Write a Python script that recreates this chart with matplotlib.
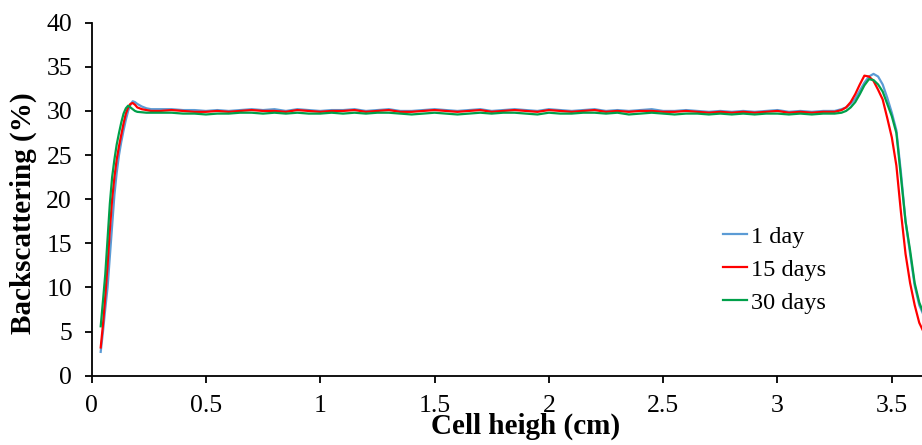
import numpy as np
import matplotlib
matplotlib.use("Agg")
import matplotlib.pyplot as plt
from matplotlib.ticker import FuncFormatter, MultipleLocator

plt.rcParams['font.family'] = ['Liberation Serif', 'DejaVu Serif']

# sample positions (cm): dense on the rising edge, coarse on the plateau, medium on the far edge
x_rise = [0.04, 0.05, 0.06, 0.07, 0.08, 0.09, 0.10, 0.11, 0.12, 0.13,
          0.14, 0.15, 0.16, 0.17, 0.18, 0.19, 0.20, 0.22, 0.24, 0.26]
x_flat = np.round(np.arange(0.30, 3.2501, 0.05), 2)
x_end = np.round(np.arange(3.28, 3.6401, 0.02), 2)
x = np.concatenate([x_rise, x_flat, x_end])

# 1 day
day1 = [2.7, 5.0, 7.6, 10.0, 13.5, 17.0, 20.5, 23.0, 25.0, 26.5,
        27.8, 29.0, 30.0, 30.7, 31.1, 31.0, 30.8, 30.5, 30.3, 30.2,
        30.2, 30.2, 30.1, 30.1, 30.0, 30.1, 30.0, 30.1, 30.2, 30.1,
        30.2, 30.0, 30.2, 30.1, 30.0, 30.1, 30.1, 30.2, 30.0, 30.1,
        30.2, 30.0, 30.0, 30.1, 30.2, 30.1, 30.0, 30.1, 30.2, 30.0,
        30.1, 30.2, 30.1, 30.0, 30.2, 30.1, 30.0, 30.1, 30.2, 30.0,
        30.1, 30.0, 30.1, 30.2, 30.0, 30.0, 30.1, 30.0, 29.9, 30.0,
        29.9, 30.0, 29.9, 30.0, 30.1, 29.9, 30.0, 29.9, 30.0, 30.0,
        30.2, 30.4, 30.8, 31.4, 32.3, 33.2, 33.9, 34.2, 33.9, 33.0,
        31.5, 29.8, 27.8, 23.0, 17.5, 13.8, 10.2, 8.0, 6.8]

# 15 days
day15 = [3.2, 5.8, 9.0, 12.5, 16.5, 20.0, 22.5, 24.5, 26.0, 27.3,
         28.6, 29.7, 30.4, 30.8, 30.9, 30.7, 30.4, 30.2, 30.1, 30.0,
         30.0, 30.1, 30.0, 29.9, 29.9, 30.0, 29.9, 30.0, 30.1, 30.0,
         30.0, 29.9, 30.1, 30.0, 29.9, 30.0, 30.0, 30.1, 29.9, 30.0,
         30.1, 29.9, 29.9, 30.0, 30.1, 30.0, 29.9, 30.0, 30.1, 29.9,
         30.0, 30.1, 30.0, 29.9, 30.1, 30.0, 29.9, 30.0, 30.1, 29.9,
         30.0, 29.9, 30.0, 30.0, 29.9, 29.9, 30.0, 29.9, 29.8, 29.9,
         29.8, 29.9, 29.8, 29.9, 30.0, 29.8, 29.9, 29.8, 29.9, 29.9,
         30.1, 30.4, 31.0, 31.9, 33.0, 34.0, 33.9, 33.4, 32.4, 31.3,
         29.2, 27.0, 23.8, 18.5, 13.8, 10.5, 8.0, 6.0, 4.9]

# 30 days
day30 = [5.6, 8.5, 11.5, 15.5, 19.5, 22.5, 24.5, 26.2, 27.5, 28.7,
         29.7, 30.3, 30.6, 30.4, 30.2, 30.0, 29.9, 29.85, 29.8, 29.8,
         29.8, 29.8, 29.7, 29.7, 29.6, 29.7, 29.7, 29.8, 29.8, 29.7,
         29.8, 29.7, 29.8, 29.7, 29.7, 29.8, 29.7, 29.8, 29.7, 29.8,
         29.8, 29.7, 29.6, 29.7, 29.8, 29.7, 29.6, 29.7, 29.8, 29.7,
         29.8, 29.8, 29.7, 29.6, 29.8, 29.7, 29.7, 29.8, 29.8, 29.7,
         29.8, 29.6, 29.7, 29.8, 29.7, 29.6, 29.7, 29.7, 29.6, 29.7,
         29.6, 29.7, 29.6, 29.7, 29.7, 29.6, 29.7, 29.6, 29.7, 29.7,
         29.8, 30.0, 30.4, 31.0, 31.9, 32.9, 33.6, 33.5, 33.0, 32.2,
         30.8, 29.4, 27.5, 22.5, 17.5, 14.2, 10.5, 8.3, 7.0]

labels = ["1 day", "15 days", "30 days"]
colors = ["#5B9BD5", "#FF0000", "#00A04A"]

fig = plt.figure(figsize=(9.22, 4.45), dpi=100)
ax = fig.add_axes([0.0993, 0.1557, 0.9007, 0.7933])

for y, lab, c in zip([day1, day15, day30], labels, colors):
    ax.plot(x, y, color=c, lw=1.6, label=lab)

ax.set_xlim(0, 3.632)
ax.set_ylim(0, 40)
ax.xaxis.set_major_locator(MultipleLocator(0.5))
ax.yaxis.set_major_locator(MultipleLocator(5))
ax.xaxis.set_major_formatter(FuncFormatter(lambda v, p: "%g" % v))

for s in ["top", "right"]:
    ax.spines[s].set_visible(False)
for s in ["left", "bottom"]:
    ax.spines[s].set_linewidth(1.3)
ax.tick_params(axis="both", direction="out", length=5, width=1.3, labelsize=18.5, color="black")
ax.tick_params(axis="y", pad=9)
ax.tick_params(axis="x", pad=9)

ax.set_xlabel("Cell heigh (cm)", fontsize=21, fontweight="bold")
ax.set_ylabel("Backscattering (%)", fontsize=21, fontweight="bold")
ax.xaxis.set_label_coords(0.523, -0.106)
ax.yaxis.set_label_coords(-0.0658, 0.4595)

ax.legend(loc="upper left", bbox_to_anchor=(0.7601, 0.425), frameon=False, fontsize=17.5,
          handlelength=1.0, handletextpad=0.15, labelspacing=0.45, borderpad=0, borderaxespad=0)

fig.savefig("out.png", dpi=100)
